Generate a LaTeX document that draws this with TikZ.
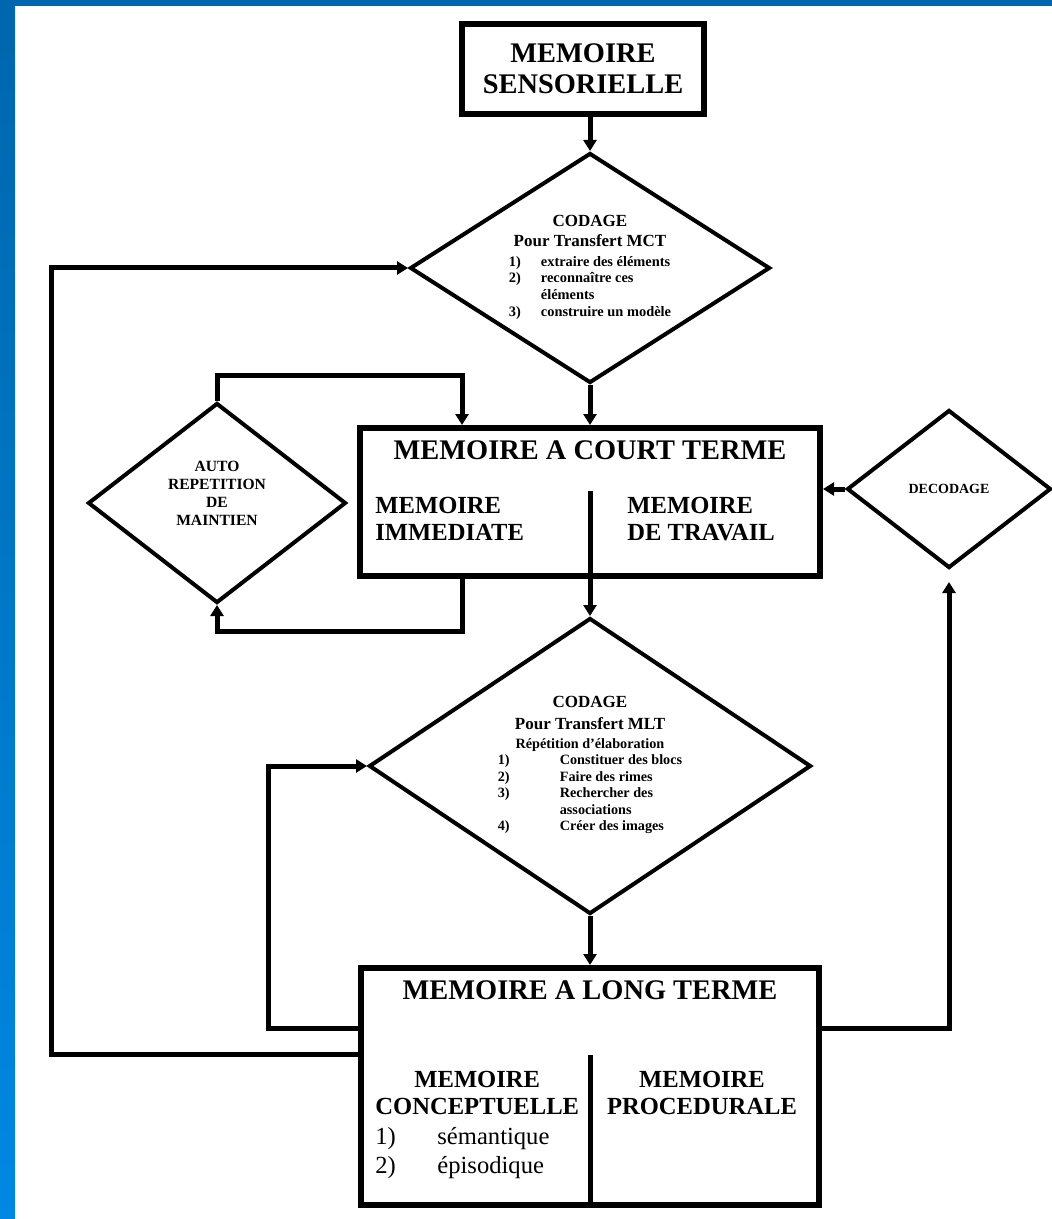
\documentclass[tikz,border=0pt]{standalone}
\usepackage{fontspec}
\setmainfont{Liberation Serif}
\usetikzlibrary{arrows.meta, shapes.geometric}
\definecolor{framedark}{HTML}{0066AD}
\definecolor{framelight}{HTML}{0088E2}

\begin{document}
\begin{tikzpicture}[x=0.5pt, y=-0.5pt,
  box/.style={rectangle, draw, line width=3pt, inner sep=0pt},
  dec/.style={diamond, draw, line width=2pt, inner sep=0pt, align=center},
  arr/.style={-{Triangle[length=5.5pt, width=6.5pt]}, line width=2.5pt},
  divider/.style={line width=2.5pt},
  titletext/.style={font=\bfseries\fontsize{14.2}{15.5}\selectfont, inner sep=0pt},
  subtext/.style={font=\bfseries\fontsize{12.3}{13.5}\selectfont, inner sep=0pt, align=left}]
  \useasboundingbox (0,0) rectangle (1052,1219);
  % blue frame
  \shade[top color=framedark, bottom color=framelight] (0,0) rectangle (15,1219);
  \fill[framedark] (0,0) rectangle (1052,6);

  \node[box, minimum width=121pt, minimum height=45pt, align=center,
        font=\bfseries\fontsize{14.2}{15.5}\selectfont] (ms) at (583,69) {MEMOIRE\\SENSORIELLE};

  \node[dec, minimum width=180pt, minimum height=115pt, aspect=1.56,
        font=\bfseries\fontsize{8.5}{10}\selectfont] (codmct) at (590,268)
    {CODAGE\\Pour Transfert MCT\\[0pt]
     \fontsize{7.2}{8.3}\selectfont\begin{tabular}[t]{@{}p{16pt}@{}l@{}}
     1) & extraire des éléments\\ 2) & reconnaître ces\\ & éléments\\ 3) & construire un modèle
     \end{tabular}};

  \node[box, minimum width=230pt, minimum height=74pt] (mct) at (590,502) {};
  \node[titletext, anchor=north] (mcttitle) at (590,440) {MEMOIRE A COURT TERME};
  \node[subtext, anchor=north west] (immed) at (375,497) {MEMOIRE\\IMMEDIATE};
  \node[subtext, anchor=north west] (travail) at (627,497) {MEMOIRE\\DE TRAVAIL};
  \draw[divider] (mct.south) -- ++(0,-88);

  \node[dec, minimum width=129pt, minimum height=100pt, aspect=1.29,
        font=\bfseries\fontsize{7.8}{9}\selectfont] (auto) at (217,503)
    {AUTO\\REPETITION\\DE\\MAINTIEN\\[1pt]\mbox{}};

  \node[dec, minimum width=102pt, minimum height=79pt, aspect=1.29,
        font=\bfseries\fontsize{7}{8}\selectfont] (decod) at (949,489) {DECODAGE};

  \node[dec, minimum width=221pt, minimum height=148pt, aspect=1.49,
        font=\bfseries\fontsize{8.5}{11}\selectfont] (codmlt) at (590,766)
    {CODAGE\\Pour Transfert MLT\\[-1.5pt]
     \fontsize{7.1}{8.3}\selectfont Répétition d'élaboration\\[-3pt]
     \fontsize{7.1}{8.2}\selectfont\begin{tabular}[t]{@{}p{31pt}@{}l@{}}
     1) & Constituer des blocs\\ 2) & Faire des rimes\\ 3) & Rechercher des\\ & associations\\ 4) & Créer des images
     \end{tabular}};

  \node[box, minimum width=229pt, minimum height=118.5pt] (mlt) at (590,1086.5) {};
  \node[titletext, anchor=north] (mlttitle) at (590,980) {MEMOIRE A LONG TERME};
  \node[subtext, align=center, anchor=north west] (concept) at (375,1071) {MEMOIRE\\CONCEPTUELLE};
  \node[font=\fontsize{12.3}{14.5}\selectfont, inner sep=0pt, align=left, anchor=north west] (conclist) at (375,1127)
    {\makebox[31pt][l]{1)}sémantique\\\makebox[31pt][l]{2)}épisodique};
  \node[subtext, align=center, anchor=north] (proced) at (702,1071) {MEMOIRE\\PROCEDURALE};
  \draw[divider] (mlt.south) -- ++(0,-153);

  % bends of the loops
  \coordinate (rtop) at (462,375);
  \coordinate (rbot) at (462,631);
  \coordinate (rdec) at (949,1028);
  \coordinate (lin) at (268,1028);
  \coordinate (lout) at (51,1054);

  \draw[arr] (ms.south -| codmct.north) -- (codmct.north);
  \draw[arr] (codmct.south) -- (mct.north);
  \draw[arr] (mct.south) -- (codmlt.north);
  \draw[arr] (codmlt.south) -- (mlt.north);
  \draw[arr] (auto.north) |- (rtop) -- (rtop |- mct.north);
  \draw[arr] (rbot |- mct.south) -- (rbot) -| (auto.south);
  \draw[arr] (decod.west) -- (decod.west -| mct.east);
  \draw[arr, shorten >=6pt] (rdec -| mlt.east) -- (rdec) -- (decod.south);
  \draw[arr] (lin -| mlt.west) -- (lin) |- (codmlt.west);
  \draw[arr] (lout -| mlt.west) -- (lout) |- (codmct.west);
\end{tikzpicture}
\end{document}
